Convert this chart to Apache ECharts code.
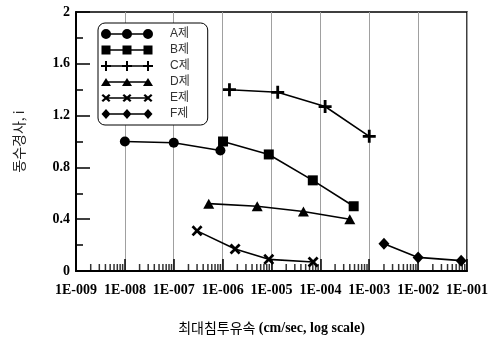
<!DOCTYPE html>
<html>
<head>
<meta charset="utf-8">
<script src="https://cdn.jsdelivr.net/npm/echarts@6/dist/echarts.min.js"></script>
<style>
  html, body { margin: 0; padding: 0; background: #fff; }
  #chart { width: 493px; height: 346px; }
</style>
</head>
<body>
<div id="chart"></div>
<script>
// Maximum seepage velocity (cm/sec) vs hydraulic gradient i, per material
const seriesNames = ['A제', 'B제', 'C제', 'D제', 'E제', 'F제'];
const seriesA = [[1e-8, 1.0], [1e-7, 0.99], [9e-7, 0.93]];
const seriesB = [[1.02e-6, 1.0], [8.8e-6, 0.90], [7.0e-5, 0.70], [4.8e-4, 0.50]];
const seriesC = [[1.38e-6, 1.40], [1.34e-5, 1.38], [1.25e-4, 1.27], [1.0e-3, 1.04]];
const seriesD = [[5.2e-7, 0.52], [5.1e-6, 0.50], [4.5e-5, 0.46], [4.0e-4, 0.40]];
const seriesE = [[3.0e-7, 0.31], [1.8e-6, 0.17], [8.8e-6, 0.09], [7.1e-5, 0.07]];
const seriesF = [[2.0e-3, 0.21], [1.0e-2, 0.105], [7.6e-2, 0.08]];

const xTickLabels = ['1E-009', '1E-008', '1E-007', '1E-006', '1E-005', '1E-004', '1E-003', '1E-002', '1E-001'];
const yTickLabels = ['0', '0.4', '0.8', '1.2', '1.6', '2'];
const xTitleKo = '최대침투유속';
const xTitleEn = '(cm/sec, log scale)';
const yTitle = '동수경사, i';

// minor log ticks (2..9 within each decade)
const minorMultipliers = [2, 3, 4, 5, 6, 7, 8, 9];
const decadeExponents = [-9, -8, -7, -6, -5, -4, -3, -2];
const xMinorTicks = [];
decadeExponents.forEach(function (e) {
  minorMultipliers.forEach(function (m) { xMinorTicks.push(m * Math.pow(10, e)); });
});

// ---- marker shape paths (all wound clockwise so overlaps merge) ----
function circlePath(cx, cy, w) {
  const r = w / 2;
  return 'M' + (cx - r) + ',' + cy + ' a' + r + ',' + r + ' 0 1 1 ' + (2 * r) + ',0 a' + r + ',' + r + ' 0 1 1 ' + (-2 * r) + ',0 Z';
}
function rectPath(cx, cy, w, h) {
  return 'M' + (cx - w / 2) + ',' + (cy - h / 2) + ' h' + w + ' v' + h + ' h' + (-w) + ' Z';
}
function trianglePath(cx, cy, w, h) {
  return 'M' + cx + ',' + (cy - h / 2) + ' L' + (cx + w / 2) + ',' + (cy + h / 2) + ' L' + (cx - w / 2) + ',' + (cy + h / 2) + ' Z';
}
function diamondPath(cx, cy, w, h) {
  return 'M' + cx + ',' + (cy - h / 2) + ' L' + (cx + w / 2) + ',' + cy + ' L' + cx + ',' + (cy + h / 2) + ' L' + (cx - w / 2) + ',' + cy + ' Z';
}
function plusPath(cx, cy, w, h, t) {
  const a = t / 2;
  const pts = [
    [cx - a, cy - h / 2], [cx + a, cy - h / 2], [cx + a, cy - a], [cx + w / 2, cy - a],
    [cx + w / 2, cy + a], [cx + a, cy + a], [cx + a, cy + h / 2], [cx - a, cy + h / 2],
    [cx - a, cy + a], [cx - w / 2, cy + a], [cx - w / 2, cy - a], [cx - a, cy - a]
  ];
  return 'M' + pts.map(function (p) { return p[0] + ',' + p[1]; }).join(' L') + ' Z';
}
function crossPath(cx, cy, w, h, t) {
  const hw = w / 2, hh = h / 2, d = t / 1.414;
  const pts = [
    [cx - hw, cy - hh + d], [cx - hw + d, cy - hh], [cx, cy - d], [cx + hw - d, cy - hh],
    [cx + hw, cy - hh + d], [cx + d, cy], [cx + hw, cy + hh - d], [cx + hw - d, cy + hh],
    [cx, cy + d], [cx - hw + d, cy + hh], [cx - hw, cy + hh - d], [cx - d, cy]
  ];
  return 'M' + pts.map(function (p) { return p[0] + ',' + p[1]; }).join(' L') + ' Z';
}

const markerShapes = [
  function (cx, cy) { return circlePath(cx, cy, 10); },
  function (cx, cy) { return rectPath(cx, cy, 9, 9); },
  function (cx, cy) { return plusPath(cx, cy, 10, 10, 2.0); },
  function (cx, cy) { return trianglePath(cx, cy, 10, 8); },
  function (cx, cy) { return crossPath(cx, cy, 9, 8, 2.2); },
  function (cx, cy) { return diamondPath(cx, cy, 9, 10); }
];

// legend sample: line with three markers in a 52 x 11 box
function legendIcon(shape) {
  const cy = 5.5, centers = [5, 26, 47];
  let p = 'M0,0 M52,11 ' + rectPath(26, cy, 42, 1.6);
  centers.forEach(function (cx) { p += ' ' + shape(cx, cy); });
  return 'path://' + p;
}

const symbols = [
  { symbol: 'circle', size: 10 },
  { symbol: 'rect', size: 10 },
  { symbol: 'path://' + plusPath(6, 6, 12, 12, 2.6), size: 13 },
  { symbol: 'triangle', size: [11, 10] },
  { symbol: 'path://' + crossPath(5, 5, 10, 10, 2.5), size: 11 },
  { symbol: 'diamond', size: [11, 12] }
];
const seriesData = [seriesA, seriesB, seriesC, seriesD, seriesE, seriesF];

const lineSeries = seriesNames.map(function (name, i) {
  return {
    name: name,
    type: 'line',
    data: seriesData[i],
    symbol: symbols[i].symbol,
    symbolSize: symbols[i].size,
    showAllSymbol: true,
    clip: false,
    lineStyle: { color: '#000', width: 1.6 },
    itemStyle: { color: '#000', borderWidth: 0 },
    emphasis: { disabled: true },
    z: 5
  };
});

const serifBold = { fontFamily: 'Liberation Serif', fontWeight: 'bold', fontSize: 14, color: '#000' };

const option = {
  animation: false,
  backgroundColor: '#fff',
  grid: {
    left: 76, right: 26, top: 12, bottom: 75,
    show: true, borderColor: '#000', borderWidth: 1.5, backgroundColor: 'transparent'
  },
  legend: {
    data: seriesNames.map(function (n, i) { return { name: n, icon: legendIcon(markerShapes[i]) }; }),
    orient: 'vertical',
    left: 98, top: 23,
    itemWidth: 52, itemHeight: 11, itemGap: 4,
    padding: [5, 18, 5, 3],
    backgroundColor: '#fff',
    borderColor: '#000', borderWidth: 1, borderRadius: 7,
    selectedMode: false,
    itemStyle: { borderWidth: 0 },
    textStyle: {
      fontFamily: 'Liberation Sans, Noto Sans CJK KR', fontSize: 12, color: '#333',
      lineHeight: 12, padding: [0, 0, 0, 12]
    }
  },
  xAxis: {
    type: 'log', logBase: 10, min: 1e-9, max: 1e-1, splitNumber: 8,
    name: '{k|' + xTitleKo + '} {e|' + xTitleEn + '}',
    nameLocation: 'middle', nameGap: 50,
    nameTextStyle: {
      rich: {
        k: { fontFamily: 'Noto Sans CJK KR', fontSize: 14, color: '#000' },
        e: { fontFamily: 'Liberation Serif', fontWeight: 'bold', fontSize: 14, color: '#000' }
      }
    },
    axisLine: { show: true, lineStyle: { color: '#000', width: 2 } },
    axisTick: { show: true, inside: true, length: 12, lineStyle: { color: '#000', width: 1.5 } },
    splitLine: { show: true, lineStyle: { color: '#a0a0a0', width: 1 } },
    axisLabel: Object.assign({}, serifBold, {
      margin: 12,
      showMinLabel: true, showMaxLabel: true,
      formatter: function (v) { return xTickLabels[Math.round(Math.log10(v)) + 9] || ''; }
    })
  },
  yAxis: {
    type: 'value', min: 0, max: 2, interval: 0.4,
    name: yTitle, nameLocation: 'middle', nameGap: 50,
    nameTextStyle: { fontFamily: 'Noto Sans CJK KR', fontSize: 14, color: '#222' },
    axisLine: { show: true, lineStyle: { color: '#000', width: 2 } },
    axisTick: { show: true, inside: true, length: 14, lineStyle: { color: '#000', width: 1.5 } },
    minorTick: { show: true, splitNumber: 2, length: 7, lineStyle: { color: '#000', width: 1.5 } },
    splitLine: { show: false },
    axisLabel: Object.assign({}, serifBold, {
      margin: 6,
      formatter: function (v) { return yTickLabels[Math.round(v / 0.4)]; }
    })
  },
  series: lineSeries.concat([{
    name: 'minorTicks',
    type: 'scatter',
    data: xMinorTicks.map(function (v) { return [v, 0]; }),
    symbol: 'rect', symbolSize: [1.5, 7], symbolOffset: [0, -3.5],
    itemStyle: { color: '#000' },
    silent: true, clip: false, z: 3
  }])
};

echarts.init(document.getElementById('chart'), null, { renderer: 'canvas' }).setOption(option);
</script>
</body>
</html>
